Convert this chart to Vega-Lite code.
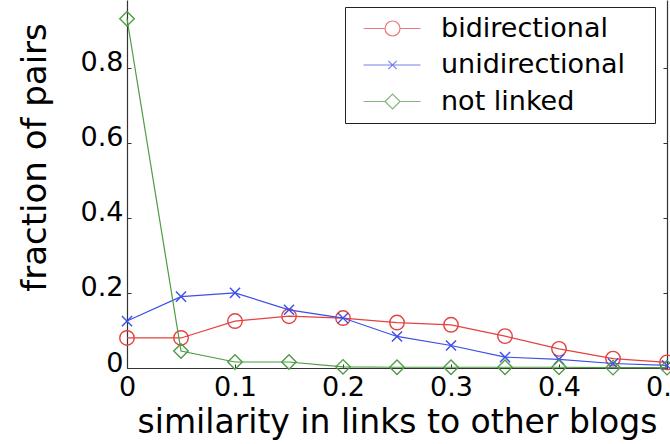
{
  "$schema": "https://vega.github.io/schema/vega-lite/v6.json",
  "width": 540,
  "height": 368,
  "autosize": {"type": "none"},
  "padding": {"left": 127, "top": 0, "right": 3, "bottom": 76},
  "background": "white",
  "config": {
    "view": {"stroke": null},
    "font": "DejaVu Sans",
    "axis": {
      "grid": false,
      "domainColor": "#333333",
      "domainWidth": 1.2,
      "tickColor": "#333333",
      "tickSize": -4,
      "labelColor": "black",
      "titleColor": "black",
      "labelFont": "DejaVu Sans",
      "titleFont": "DejaVu Sans",
      "labelFontSize": 27,
      "titleFontWeight": "normal",
      "labelFlush": false,
      "labelOverlap": false,
      "labelBound": false
    },
    "legend": {
      "orient": "none",
      "legendX": 218,
      "legendY": 7,
      "strokeColor": "#222222",
      "fillColor": "white",
      "padding": 8,
      "labelFont": "DejaVu Sans",
      "labelFontSize": 27,
      "labelColor": "black",
      "labelLimit": 500,
      "rowPadding": 8.5,
      "symbolSize": 196,
      "symbolStrokeWidth": 1.2,
      "symbolFillColor": "transparent",
      "labelOffset": 61,
      "titleOrient": "right",
      "titleFontSize": 1,
      "titlePadding": 22
    }
  },
  "data": {
    "values": [
      {"x": 0.0, "series": "bidirectional", "y": 0.08},
      {"x": 0.05, "series": "bidirectional", "y": 0.08},
      {"x": 0.1, "series": "bidirectional", "y": 0.125},
      {"x": 0.15, "series": "bidirectional", "y": 0.138},
      {"x": 0.2, "series": "bidirectional", "y": 0.133},
      {"x": 0.25, "series": "bidirectional", "y": 0.121},
      {"x": 0.3, "series": "bidirectional", "y": 0.115},
      {"x": 0.35, "series": "bidirectional", "y": 0.085},
      {"x": 0.4, "series": "bidirectional", "y": 0.051},
      {"x": 0.45, "series": "bidirectional", "y": 0.025},
      {"x": 0.5, "series": "bidirectional", "y": 0.015},
      {"x": 0.0, "series": "unidirectional", "y": 0.125},
      {"x": 0.05, "series": "unidirectional", "y": 0.19},
      {"x": 0.1, "series": "unidirectional", "y": 0.2},
      {"x": 0.15, "series": "unidirectional", "y": 0.155},
      {"x": 0.2, "series": "unidirectional", "y": 0.133},
      {"x": 0.25, "series": "unidirectional", "y": 0.084},
      {"x": 0.3, "series": "unidirectional", "y": 0.06},
      {"x": 0.35, "series": "unidirectional", "y": 0.029},
      {"x": 0.4, "series": "unidirectional", "y": 0.023},
      {"x": 0.45, "series": "unidirectional", "y": 0.012},
      {"x": 0.5, "series": "unidirectional", "y": 0.007},
      {"x": 0.0, "series": "not linked", "y": 0.93},
      {"x": 0.05, "series": "not linked", "y": 0.045},
      {"x": 0.1, "series": "not linked", "y": 0.016},
      {"x": 0.15, "series": "not linked", "y": 0.016},
      {"x": 0.2, "series": "not linked", "y": 0.003},
      {"x": 0.25, "series": "not linked", "y": 0.002},
      {"x": 0.3, "series": "not linked", "y": 0.002},
      {"x": 0.35, "series": "not linked", "y": 0.002},
      {"x": 0.4, "series": "not linked", "y": 0.002},
      {"x": 0.45, "series": "not linked", "y": 0.001},
      {"x": 0.5, "series": "not linked", "y": 0.001}
    ]
  },
  "encoding": {
    "x": {
      "field": "x",
      "type": "quantitative",
      "scale": {"domain": [0, 0.5], "nice": false, "zero": false},
      "axis": {
        "values": [0, 0.1, 0.2, 0.3, 0.4, 0.5],
        "format": ".1~f",
        "labelPadding": 10,
        "title": "similarity in links to other blogs",
        "titleFontSize": 33,
        "titleBaseline": "alphabetic",
        "titleX": 270,
        "titleY": 64
      }
    }
  },
  "layer": [
    {
      "transform": [{"filter": "datum.series === 'bidirectional'"}],
      "mark": {
        "type": "line",
        "color": "#e4413f",
        "strokeWidth": 1.2,
        "point": {"shape": "circle", "filled": false, "size": 210, "color": "#e4413f", "strokeWidth": 1.4}
      },
      "encoding": {
        "y": {
          "field": "y",
          "type": "quantitative",
          "scale": {"domain": [0, 0.98], "nice": false, "zero": true},
          "axis": {
            "values": [0, 0.2, 0.4, 0.6, 0.8],
            "format": ".1~f",
            "labelPadding": 8,
            "labelOffset": -5,
            "title": "fraction of pairs",
            "titleFontSize": 34,
            "titleAngle": 270,
            "titleBaseline": "alphabetic",
            "titleX": -82,
            "titleY": 157
          }
        }
      }
    },
    {
      "transform": [{"filter": "datum.series === 'unidirectional'"}],
      "mark": {
        "type": "line",
        "color": "#3d4ee6",
        "strokeWidth": 1.2,
        "point": {"shape": "M-0.7,-0.7L0.7,0.7M-0.7,0.7L0.7,-0.7", "filled": false, "size": 210, "color": "#3d4ee6", "strokeWidth": 1.4}
      },
      "encoding": {
        "y": {"field": "y", "type": "quantitative", "axis": null}
      }
    },
    {
      "transform": [{"filter": "datum.series === 'not linked'"}],
      "mark": {
        "type": "line",
        "color": "#4f9a45",
        "strokeWidth": 1.2,
        "point": {"shape": "diamond", "filled": false, "size": 210, "color": "#4f9a45", "strokeWidth": 1.4}
      },
      "encoding": {
        "y": {"field": "y", "type": "quantitative", "axis": null}
      }
    },
    {
      "transform": [{"filter": "datum.x > 1"}],
      "mark": {"type": "point", "filled": false, "strokeWidth": 1.2},
      "encoding": {
        "y": {
          "field": "y",
          "type": "quantitative",
          "axis": {"orient": "right", "labels": false, "title": null, "values": [0, 0.2, 0.4, 0.6, 0.8]}
        },
        "color": {
          "field": "series",
          "type": "nominal",
          "scale": {"domain": ["bidirectional", "unidirectional", "not linked"], "range": ["#e4413f", "#3d4ee6", "#4f9a45"]},
          "legend": {"title": "\u00a0"}
        },
        "shape": {
          "field": "series",
          "type": "nominal",
          "scale": {
            "domain": ["bidirectional", "unidirectional", "not linked"],
            "range": [
              "M-0.42,0H2.65M4.79,0H7.72M2.65,0A1.07,1.07,0,1,0,4.79,0A1.07,1.07,0,1,0,2.65,0",
              "M-0.42,0H7.72M3.12,-0.6L4.32,0.6M3.12,0.6L4.32,-0.6",
              "M-0.42,0H2.65M4.79,0H7.72M2.65,0L3.72,-1.07L4.79,0L3.72,1.07Z"
            ]
          },
          "legend": {"title": "\u00a0"}
        }
      }
    }
  ],
  "resolve": {"axis": {"y": "independent"}}
}
